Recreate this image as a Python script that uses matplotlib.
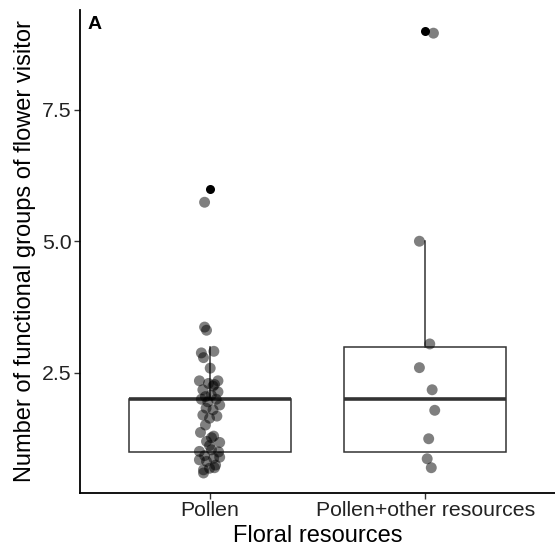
import numpy as np
import matplotlib
matplotlib.use("Agg")
import matplotlib.pyplot as plt

plt.rcParams["font.family"] = ["Liberation Sans", "DejaVu Sans"]

# Categories and tick labels
categories = ["Pollen", "Pollen+other resources"]
y_ticks = [2.5, 5.0, 7.5]
y_tick_labels = ["2.5", "5.0", "7.5"]

# Observed counts of functional groups (value, number of plants)
pollen_values = [1, 2, 3, 6]
pollen_counts = [20, 18, 6, 1]
other_values = [1, 2, 3, 5, 9]
other_counts = [3, 2, 2, 1, 1]

# Jittered point positions (horizontal offset from category, displayed value)
pollen_dx = [-0.023, -0.014, -0.038, 0.020, -0.028, 0.003,
             -0.047, 0.039, 0.016, -0.031, 0.039, 0.008, -0.038, 0.031,
             -0.008, 0.047, -0.016, 0.016, -0.031, 0.034, 0.000, 0.023,
             -0.005, -0.019,
             -0.019, -0.042, 0.019, 0.009, -0.014, 0.047, 0.000, 0.009,
             -0.047, 0.042, -0.023, 0.047, 0.019, -0.047, -0.014, 0.028,
             0.023, 0.000, -0.028, -0.028,
             -0.023]
pollen_y = [3.37, 3.31, 2.88, 2.91, 2.79, 2.59,
            2.35, 2.35, 2.25, 2.18, 2.14, 2.08, 2.00, 2.00,
            1.95, 1.89, 1.83, 1.80, 1.70, 1.68, 1.64, 2.28,
            2.30, 2.05,
            1.51, 1.37, 1.30, 1.27, 1.20, 1.18, 1.12, 1.04,
            1.01, 1.00, 0.93, 0.90, 0.88, 0.85, 0.82, 0.75,
            0.70, 0.69, 0.66, 0.60,
            5.74]
other_dx = [0.037, -0.028, 0.020, -0.028, 0.031, 0.043, 0.015, 0.008, 0.027]
other_y = [8.95, 5.00, 3.05, 2.60, 2.18, 1.79, 1.25, 0.87, 0.70]

pollen_obs = np.repeat(pollen_values, pollen_counts)
other_obs = np.repeat(other_values, other_counts)

fig = plt.figure(figsize=(5.55, 5.6), dpi=100)
ax = fig.add_axes([80 / 555, 67 / 560, 475 / 555, 483 / 560])

line_col = "#333333"
ax.boxplot(
    [pollen_obs, other_obs],
    positions=[1, 2],
    widths=0.75,
    whis=1.5,
    patch_artist=True,
    showcaps=False,
    boxprops=dict(facecolor="white", edgecolor=line_col, linewidth=1.1),
    whiskerprops=dict(color=line_col, linewidth=1.1),
    medianprops=dict(color=line_col, linewidth=2.6),
    flierprops=dict(marker="o", markerfacecolor="black", markeredgecolor="none",
                    markersize=6.5),
    zorder=2,
)

ax.scatter(1 + np.array(pollen_dx), pollen_y, s=62, color="black", alpha=0.5,
           edgecolors="none", zorder=3)
ax.scatter(2 + np.array(other_dx), other_y, s=62, color="black", alpha=0.5,
           edgecolors="none", zorder=3)

ax.set_xlim(0.4, 2.6)
ax.set_ylim(0.22, 9.39)
ax.set_xticks([1, 2])
ax.set_xticklabels(categories)
ax.set_yticks(y_ticks)
ax.set_yticklabels(y_tick_labels)

for side in ["top", "right"]:
    ax.spines[side].set_visible(False)
for side in ["left", "bottom"]:
    ax.spines[side].set_linewidth(1.3)
    ax.spines[side].set_color("black")

ax.tick_params(axis="both", length=4, width=1.0, color=line_col,
               labelsize=15.3, labelcolor="#222222", pad=2)

ax.set_xlabel("Floral resources", fontsize=17, color="black", labelpad=3)
ax.set_ylabel("Number of functional groups of flower visitor", fontsize=17,
              color="black", labelpad=4)

ax.text(0.016, 0.988, "A", transform=ax.transAxes, fontsize=14,
        fontweight="bold", ha="left", va="top")

fig.savefig("out.png", dpi=100)
